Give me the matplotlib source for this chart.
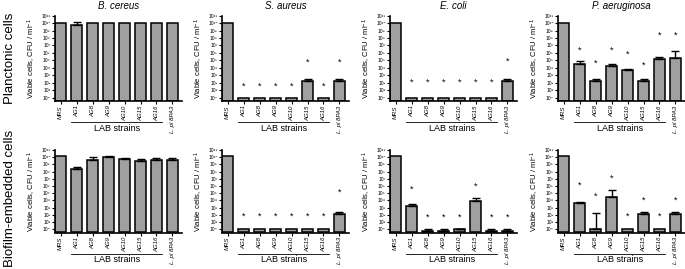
import numpy as np
import matplotlib
matplotlib.use('Agg')
import matplotlib.pyplot as plt
import matplotlib.transforms as mtransforms

plt.rcParams['font.family'] = ['Liberation Sans', 'DejaVu Sans']
plt.rcParams['mathtext.fontset'] = 'custom'
plt.rcParams['mathtext.rm'] = 'Liberation Sans'
plt.rcParams['mathtext.it'] = 'Liberation Sans:italic'

# data (log10 CFU/ml)
strains = ['MRS', 'AG1', 'AG8', 'AG9', 'AG10', 'AG15', 'AG16', 'L. pl 8PA3']
pathogens = ['B. cereus', 'S. aureus', 'E. coli', 'P. aeruginosa']
row_names = ['Planctonic cells', 'Biofilm-embedded cells']
sup = ['⁰', '¹', '²', '³', '⁴', '⁵', '⁶', '⁷', '⁸', '⁹', '¹⁰', '¹¹']
ytick_labels = ['10' + s for s in sup]

planc_mean = [[10, 9.8, 10, 10, 10, 10, 10, 10],
              [10, 0, 0, 0, 0, 2.2, 0, 2.2],
              [10, 0, 0, 0, 0, 0, 0, 2.2],
              [10, 4.55, 2.2, 4.2, 3.65, 2.2, 5.2, 5.36]]
planc_err = [[10, 10.1, 10, 10, 10, 10, 10, 10],
             [10, 0, 0, 0, 0, 2.5, 0, 2.5],
             [10, 0, 0, 0, 0, 0, 0, 2.5],
             [10, 4.86, 2.5, 4.46, 3.78, 2.5, 5.5, 6.2]]
planc_star = [[None] * 8,
              [None, 1.5, 1.5, 1.5, 1.5, 4.7, 1.5, 4.7],
              [None, 2.1, 2.1, 2.1, 2.1, 2.1, 2.1, 4.9],
              [None, 6.35, 4.55, 6.35, 5.8, 4.3, 8.4, 8.4]]

biofilm_mean = [[10.15, 8.4, 9.64, 10.05, 9.8, 9.45, 9.64, 9.55],
                [10.15, 0, 0, 0, 0, 0, 0, 2.1],
                [10.15, 3.2, -0.3, -0.3, 0, 3.9, -0.3, -0.3],
                [10.15, 3.66, 0, 4.5, 0, 2.1, 0, 2.1]]
biofilm_err = [[10.15, 8.6, 10.0, 10.2, 9.87, 9.7, 9.9, 9.85],
               [10.15, 0, 0, 0, 0, 0, 0, 2.4],
               [10.15, 3.5, 0, 0, 0.05, 4.3, 0, 0],
               [10.15, 3.75, 2.3, 5.5, 0, 2.4, 0, 2.4]]
biofilm_star = [[None] * 8,
                [None, 1.8, 1.8, 1.8, 1.8, 1.8, 1.8, 5.1],
                [None, 5.5, 1.6, 1.6, 1.6, 6.0, 1.6, 1.6],
                [None, 6.1, 4.6, 7.1, 1.8, 4.0, 1.8, 4.0]]

W, H = 685, 269
fig = plt.figure(figsize=(W / 100, H / 100), dpi=100)

lefts = [55, 222, 390, 558]
rows = [(15.6, 101, planc_mean, planc_err, planc_star),
        (150, 232.5, biofilm_mean, biofilm_err, biofilm_star)]
ybot = 10 ** -0.45
x = np.arange(len(strains))

for r, (top, bot, means, errs, stars) in enumerate(rows):
    for p in range(4):
        ax = fig.add_axes([lefts[p] / W, 1 - bot / H, 127 / W, (bot - top) / H])
        m = 10 ** np.array(means[p], dtype=float)
        e = 10 ** np.array(errs[p], dtype=float)
        ax.bar(x, m - ybot, bottom=ybot, width=0.68, color='#a0a0a0',
               edgecolor='black', linewidth=1.1, zorder=2)
        up = e - m
        sel = up > 1e-9 * m
        ax.errorbar(x[sel], m[sel], yerr=[np.zeros(sel.sum()), up[sel]],
                    fmt='none', ecolor='black', elinewidth=1.0, capsize=2.8,
                    capthick=1.0, zorder=3)
        for i, s in enumerate(stars[p]):
            if s is not None:
                ax.text(i, 10 ** s, '*', ha='center', va='center', fontsize=6.5)
        ax.set_yscale('log')
        ax.set_ylim(ybot, 1e11)
        ax.set_xlim(-0.36, 7.6)
        ax.set_yticks([10 ** k for k in range(12)])
        ax.set_yticklabels(ytick_labels, fontsize=3.6)
        ax.yaxis.set_minor_locator(matplotlib.ticker.NullLocator())
        ax.set_xticks(x)
        ax.set_xticklabels(strains, rotation=90, fontsize=4.3, style='italic')
        ax.tick_params(axis='both', length=2, width=0.8, pad=1.2)
        for side in ['top', 'right']:
            ax.spines[side].set_visible(False)
        for side in ['left', 'bottom']:
            ax.spines[side].set_linewidth(1.2)
        ax.set_ylabel('Viable cells, CFU / ml$^{-1}$', fontsize=5.5, labelpad=2)
        if r == 0:
            ax.set_title(pathogens[p], fontsize=7, style='italic', pad=5)

        # LAB strains bracket
        trans = mtransforms.blended_transform_factory(ax.transData, ax.transAxes)
        line_y = -21 / (bot - top)
        ax.plot([0.65, 6.35], [line_y, line_y], color='black', lw=0.6,
                transform=trans, clip_on=False)
        ax.text(3.5, line_y - 2 / (bot - top), 'LAB strains', transform=trans,
                ha='center', va='top', fontsize=6.5)

fig.text(10 / W, 1 - 58 / H, row_names[0], rotation=90, ha='center',
         va='center', fontsize=9.5)
fig.text(10 / W, 1 - 198 / H, row_names[1], rotation=90, ha='center',
         va='center', fontsize=9.5)

fig.savefig('out.png', dpi=100)
